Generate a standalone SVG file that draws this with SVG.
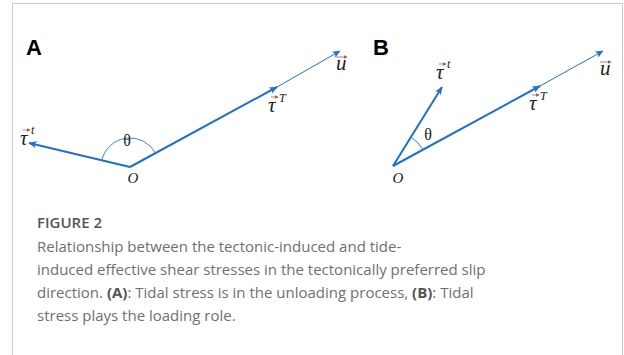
<svg xmlns="http://www.w3.org/2000/svg" width="624" height="355" viewBox="0 0 624 355">
<defs>
<style>
.thick{stroke:#1f6fcc;stroke-width:2;fill:none}
.thin{stroke:#1f6fcc;stroke-width:1;fill:none}
.arc{stroke:#3a86d8;stroke-width:1;fill:none}
.math{font-family:"Liberation Serif",serif;font-style:italic;fill:#222;font-size:21px}
.sup{font-family:"Liberation Serif",serif;font-style:italic;fill:#222;font-size:12px}
.vec{stroke:#b0584a;stroke-width:0.8;fill:none}
.theta{font-family:"Liberation Serif",serif;font-size:16px;fill:#222}
.pt{font-family:"Liberation Serif",serif;font-style:italic;fill:#222;font-size:15px}
.panel{font-family:"Liberation Sans",Arial,sans-serif;font-weight:bold;font-size:22px;fill:#000}
.cap{font-family:"Open Sans","Noto Sans",sans-serif;font-size:15px;fill:#707070}
.capb{font-weight:bold;fill:#555}
</style>
<marker id="ah" viewBox="0 0 8 7" refX="7.5" refY="3.5" markerWidth="8" markerHeight="7" markerUnits="userSpaceOnUse" orient="auto">
<path d="M0,0 L8,3.5 L0,7 L2,3.5 z" fill="#1f6fcc"/>
</marker>
<marker id="vh" viewBox="0 0 4 4" refX="3.5" refY="2" markerWidth="4" markerHeight="4" markerUnits="userSpaceOnUse" orient="auto">
<path d="M0,0 L4,2 L0,4 z" fill="#b0584a"/>
</marker>
</defs>
<rect width="624" height="355" fill="#fff"/>
<path d="M12.5,355 V3.5 H622.5 V355" fill="none" stroke="#c8c8c8" stroke-width="1"/>

<g id="panel-A">
<text class="panel" x="26" y="55">A</text>
</g>
<g id="panel-B">
<text class="panel" x="373" y="55">B</text>
</g>

<g id="connectors">
<line class="thick" x1="130" y1="167" x2="277" y2="87" marker-end="url(#ah)"/>
<line class="thin" x1="277" y1="87" x2="340" y2="51" marker-end="url(#ah)"/>
<line class="thick" x1="130" y1="167" x2="29" y2="143" marker-end="url(#ah)"/>
<path class="arc" d="M101.8,160.3 A29,29 0 0 1 155.5,153.1"/>
<line class="thick" x1="393" y1="166" x2="540" y2="86" marker-end="url(#ah)"/>
<line class="thin" x1="540" y1="86" x2="603" y2="51" marker-end="url(#ah)"/>
<line class="thick" x1="393" y1="166" x2="442" y2="87" marker-end="url(#ah)"/>
<path class="arc" d="M410.9,137.1 A34,34 0 0 1 422.9,149.7"/>
</g>

<g id="A-tau-t">
<text class="math" x="20" y="145">τ</text>
<line class="vec" x1="23" y1="130" x2="30" y2="130" marker-end="url(#vh)"/>
<text class="sup" x="31" y="134">t</text>
</g>
<g id="A-tau-T">
<text class="math" x="268" y="112">τ</text>
<line class="vec" x1="271" y1="97" x2="278" y2="97" marker-end="url(#vh)"/>
<text class="sup" x="279" y="102">T</text>
</g>
<g id="A-u">
<text class="math" x="336" y="70">u</text>
<line class="vec" x1="336" y1="57" x2="347" y2="57" marker-end="url(#vh)"/>
</g>
<g id="A-theta"><text class="theta" x="127" y="146" text-anchor="middle">θ</text></g>
<g id="A-O"><text class="pt" x="133" y="183" text-anchor="middle">O</text></g>

<g id="B-tau-t">
<text class="math" x="436" y="79">τ</text>
<line class="vec" x1="439" y1="64" x2="446" y2="64" marker-end="url(#vh)"/>
<text class="sup" x="447" y="68">t</text>
</g>
<g id="B-tau-T">
<text class="math" x="529" y="110">τ</text>
<line class="vec" x1="532" y1="95" x2="539" y2="95" marker-end="url(#vh)"/>
<text class="sup" x="540" y="100">T</text>
</g>
<g id="B-u">
<text class="math" x="600" y="75">u</text>
<line class="vec" x1="600" y1="62" x2="611" y2="62" marker-end="url(#vh)"/>
</g>
<g id="B-theta"><text class="theta" x="428" y="140" text-anchor="middle">θ</text></g>
<g id="B-O"><text class="pt" x="398" y="183" text-anchor="middle">O</text></g>

<g id="caption">
<text x="37" y="228" font-family="'Open Sans','Noto Sans',sans-serif" font-size="15" font-weight="600" fill="#555">FIGURE 2</text>
<text class="cap" x="37" y="252">Relationship between the tectonic-induced and tide-</text>
<text class="cap" x="37" y="275">induced effective shear stresses in the tectonically preferred slip</text>
<text class="cap" x="37" y="298">direction. <tspan class="capb">(A)</tspan>: Tidal stress is in the unloading process, <tspan class="capb">(B)</tspan>: Tidal</text>
<text class="cap" x="37" y="321">stress plays the loading role.</text>
</g>
</svg>
